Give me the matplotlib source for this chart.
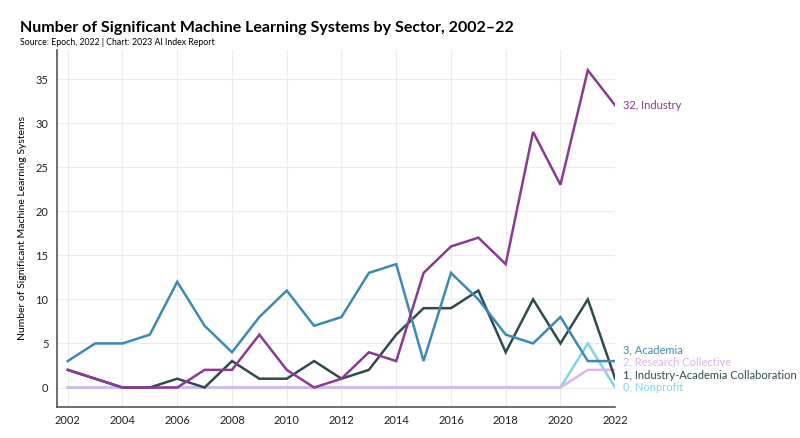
import matplotlib
matplotlib.use("Agg")
import matplotlib.pyplot as plt

plt.rcParams['font.family'] = ['Lato', 'DejaVu Sans']

years = list(range(2002, 2023))
industry = [2, 1, 0, 0, 0, 2, 2, 6, 2, 0, 1, 4, 3, 13, 16, 17, 14, 29, 23, 36, 32]
academia = [3, 5, 5, 6, 12, 7, 4, 8, 11, 7, 8, 13, 14, 3, 13, 10, 6, 5, 8, 3, 3]
collab = [2, 1, 0, 0, 1, 0, 3, 1, 1, 3, 1, 2, 6, 9, 9, 11, 4, 10, 5, 10, 1]
research = [0] * 19 + [2, 2]
nonprofit = [0] * 19 + [5, 0]

series = [
    ("Nonprofit", nonprofit, "#86d3e8"),
    ("Research Collective", research, "#dcb4ee"),
    ("Industry-Academia Collaboration", collab, "#2f4b4d"),
    ("Academia", academia, "#3e89b2"),
    ("Industry", industry, "#8a3a92"),
]
label_y = {"Industry": 32, "Academia": 4.3, "Research Collective": 2.85,
           "Industry-Academia Collaboration": 1.4, "Nonprofit": 0.0}

fig = plt.figure(figsize=(8, 4.38), dpi=100)
ax = fig.add_axes([0.071, 0.071, 0.698, 0.815])

for name, vals, col in series:
    ax.plot(years, vals, color=col, lw=1.8, solid_joinstyle='miter')
    ax.text(2022.3, label_y[name], f"{vals[-1]}, {name}", color=col,
            fontsize=8, va='center', ha='left', clip_on=False)

ax.set_xlim(2001.6, 2022)
ax.set_ylim(-2.2, 38.3)
ax.set_xticks(list(range(2002, 2023, 2)))
ax.set_yticks(list(range(0, 36, 5)))
ax.tick_params(axis='both', length=0, labelsize=8, colors='#222222', pad=6)
ax.grid(True, color='#ececec', lw=0.8)
ax.set_axisbelow(True)
for s in ['top', 'right']:
    ax.spines[s].set_visible(False)
for s in ['left', 'bottom']:
    ax.spines[s].set_color('#555555')
    ax.spines[s].set_linewidth(1.2)
ax.set_ylabel("Number of Significant Machine Learning Systems", fontsize=7.5, labelpad=6)

fig.text(0.025, 0.928, "Number of Significant Machine Learning Systems by Sector, 2002–22",
         fontsize=11.5, fontweight='bold', ha='left', va='baseline')
fig.text(0.025, 0.898, "Source: Epoch, 2022 | Chart: 2023 AI Index Report",
         fontsize=6.3, ha='left', va='baseline')

fig.savefig("out.png", dpi=100)
